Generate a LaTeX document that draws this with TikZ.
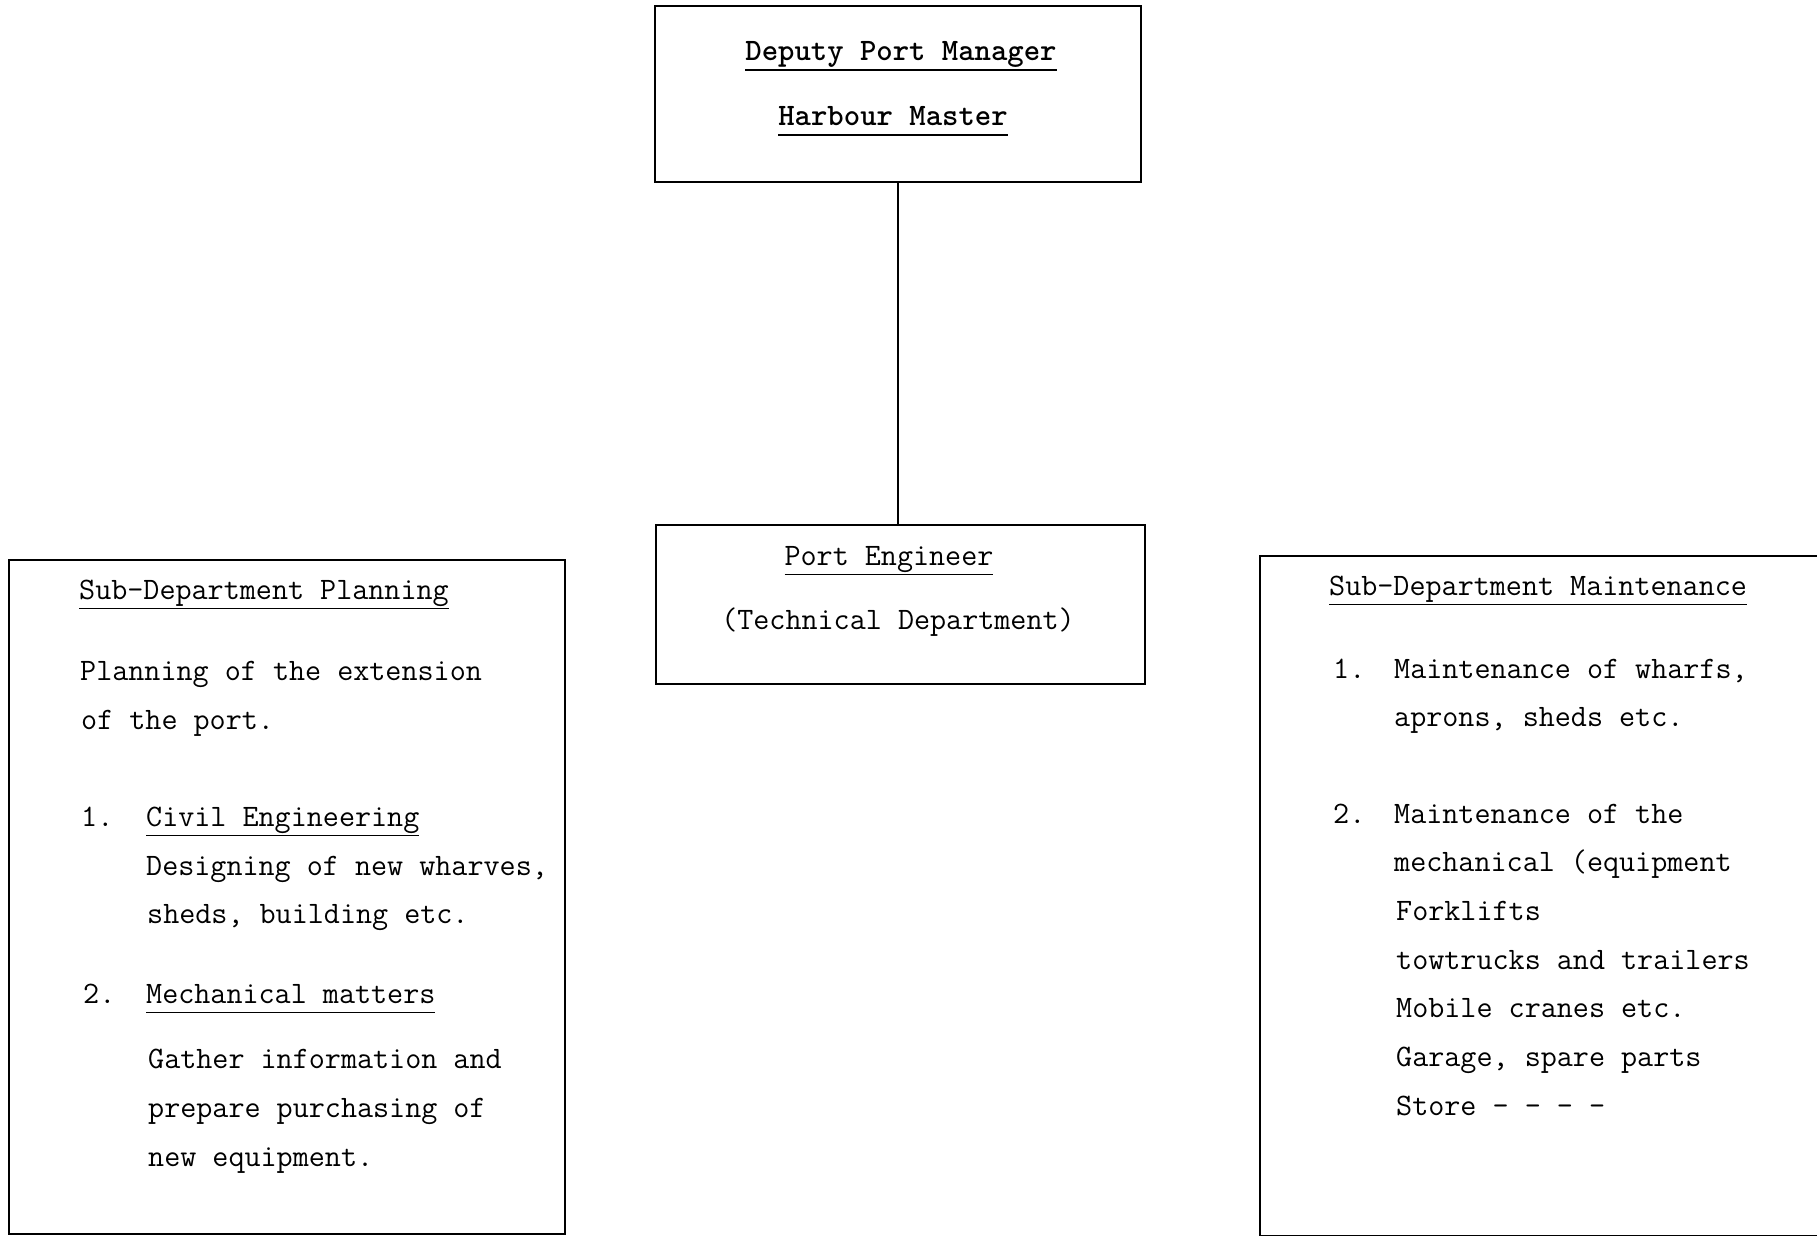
\documentclass[tikz,border=0pt]{standalone}
\newcommand\myul[1]{\vtop{\hbox{#1\vphantom{gpy}}\kern1.5pt\hrule height 1.8pt}}
\begin{document}
\begin{tikzpicture}[x=1pt,y=-1pt,
  box/.style={draw=black, line width=2.5pt, inner sep=0pt, rectangle},
  txt/.style={inner sep=0pt, anchor=base west, font=\fontsize{31.2}{36}\selectfont\ttfamily},
  ctxt/.style={txt, anchor=base}]
\useasboundingbox (0,0) rectangle (1817,1236);
% boxes
\node[box, minimum width=486pt, minimum height=176pt] (top) at (898,94) {};
\node[box, minimum width=489pt, minimum height=159pt] (port) at (900.5,604.5) {};
\node[box, minimum width=556pt, minimum height=674pt] (left) at (287,897) {};
\node[inner sep=0pt, minimum width=557pt, minimum height=680pt] (right) at (1538.5,896) {};
\draw[line width=2.5pt] (right.north east) -- (right.north west) -- (right.south west) -- (right.south east);
% connector
\draw[line width=2.2pt] (top.south) -- (top.south |- port.north);
% top box text
\node[ctxt] (dpm) at (901,61) {\bfseries\myul{Deputy Port Manager}};
\node[ctxt] (hm) at (893,126) {\bfseries\myul{Harbour Master}};
% port engineer
\node[ctxt] (pe) at (889,565) {\myul{Port Engineer}};
\node[ctxt] (td) at (898,629) {(Technical Department)};
% left box
\node[txt] (l1) at (79,599) {\myul{Sub-Department Planning}};
\node[txt] (l2) at (80,680) {Planning of the extension};
\node[txt] (l3) at (81,729) {of the port.};
\node[txt] (l4n) at (81,826) {1.};
\node[txt] (l4) at (146,826) {\myul{Civil Engineering}};
\node[txt] (l5) at (146,875) {Designing of new wharves,};
\node[txt] (l6) at (147,923) {sheds, building etc.};
\node[txt] (l7n) at (83,1003) {2.};
\node[txt] (l7) at (146,1003) {\myul{Mechanical matters}};
\node[txt] (l8) at (148,1068) {Gather information and};
\node[txt] (l9) at (148,1117) {prepare purchasing of};
\node[txt] (l10) at (148,1166) {new equipment.};
% right box
\node[txt] (r1) at (1329,595) {\myul{Sub-Department Maintenance}};
\node[txt] (r2n) at (1333,678) {1.};
\node[txt] (r2) at (1394,678) {Maintenance of wharfs,};
\node[txt] (r3) at (1394,726) {aprons, sheds etc.};
\node[txt] (r4n) at (1333,823) {2.};
\node[txt] (r4) at (1394,823) {Maintenance of the};
\node[txt] (r5) at (1394,871) {mechanical (equipment};
\node[txt] (r6) at (1396,920) {Forklifts};
\node[txt] (r7) at (1396,969) {towtrucks and trailers};
\node[txt] (r8) at (1396,1017) {Mobile cranes etc.};
\node[txt] (r9) at (1396,1066) {Garage, spare parts};
\node[txt] (r10) at (1396,1115) {Store - - - -};
\end{tikzpicture}
\end{document}
